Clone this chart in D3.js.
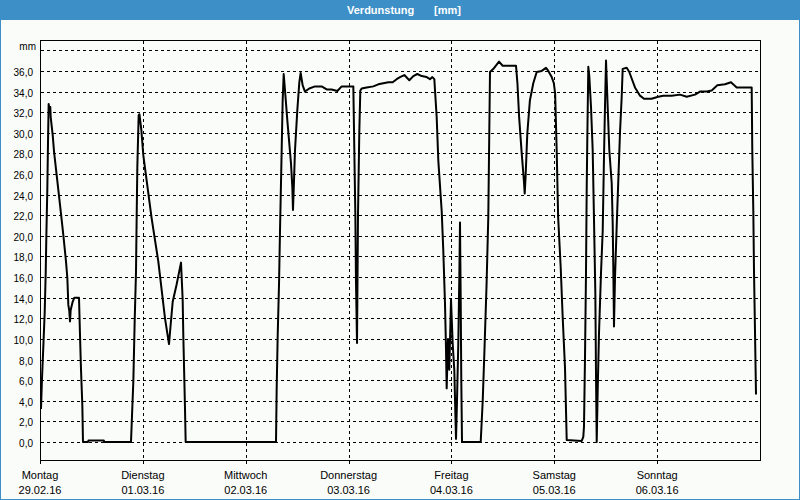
<!DOCTYPE html>
<html>
<head>
<meta charset="utf-8">
<script src="https://cdn.jsdelivr.net/npm/d3@7"></script>
<style>
  html, body { margin: 0; padding: 0; background: #fafcfa; }
  svg { display: block; }
  text { font-family: "Liberation Sans", Arial, sans-serif; }
</style>
</head>
<body>
<svg id="chart" width="800" height="500"></svg>
<script>
// ---- data ----
const title = "Verdunstung";
const unitLabel = "[mm]";
const yUnit = "mm";
const dayNames = ["Montag", "Dienstag", "Mittwoch", "Donnerstag", "Freitag", "Samstag", "Sonntag"];
const dayDates = ["29.02.16", "01.03.16", "02.03.16", "03.03.16", "04.03.16", "05.03.16", "06.03.16"];
const yTickValues = [0, 2, 4, 6, 8, 10, 12, 14, 16, 18, 20, 22, 24, 26, 28, 30, 32, 34, 36];
const yUnitValue = 38;

// hours since Monday 29.02.16 00:00
const hours = [
  0.23, 0.47, 0.78, 1.09, 1.33, 1.48, 1.71, 1.87, 2.02, 2.2, 2.4, 2.5, 2.96, 3.27, 3.89, 4.67, 5.44, 6.07, 6.38, 6.61, 6.84, 7.0, 7.16, 7.62, 8.01, 9.1, 9.33, 9.57, 9.88, 10.03,
  11.2, 11.3, 14.9, 15.0, 21.23,
  21.39, 21.78, 22.09, 22.4, 22.56, 22.71, 23.02, 23.2, 23.64, 24.11, 26.05, 27.61, 29.17, 30.1, 30.49, 30.96, 31.89, 32.9, 33.29, 33.44, 33.83, 33.99,
  55.07,
  55.22, 55.46, 55.77, 56.0, 56.39, 56.62, 56.86, 57.17, 57.71, 58.57, 58.88, 59.03, 59.19, 59.5, 60.04, 60.51, 60.82, 61.29, 61.83, 62.84, 64.17, 65.72, 66.89, 68.06, 69.38, 70.39, 73.11,
  73.34, 73.58, 73.73, 73.97, 74.2, 74.5, 74.74, 75.06, 76.22, 77.78, 78.94, 80.11, 81.28, 82.29, 83.22, 84.0, 85.01, 86.18, 87.11, 88.04, 89.06, 90.22, 91.0, 91.54, 92.01,
  92.17, 92.56, 92.94, 93.73, 94.1, 94.5, 94.73, 94.89, 95.2, 95.5, 95.9, 96.3, 96.67, 97.07, 97.3, 97.6, 97.84, 98.0, 98.16, 98.3, 98.47,
  102.83, 103.3, 103.7, 104.2, 104.6, 104.8, 105.0, 105.8, 107.1, 107.96, 109.7, 111.07, 111.4, 111.8, 112.4, 112.9, 113.1, 113.3, 113.7, 114.3, 115.1, 115.9, 117.07, 118.07, 118.6, 119.4, 119.9, 120.2,
  120.56, 120.9, 121.5, 121.96, 122.5, 122.9, 126.4,
  126.77, 126.93, 127.17, 127.4, 127.56, 127.7, 127.94, 128.17, 128.57, 128.96, 129.27, 129.58, 129.73, 129.9, 130.13, 130.43, 130.9, 131.3, 131.6, 131.83, 132.07,
  132.46, 132.84, 133.4, 133.63, 133.77, 133.93, 134.17, 134.56, 134.94, 135.33, 135.73, 135.96, 136.9, 137.5, 137.67, 138.83, 140.0, 140.93, 142.7, 144.27, 145.43, 147.4,
  149.33, 150.9, 152.83, 154.0, 155.57, 156.73, 158.04, 159.83, 161.23, 162.56, 164.1, 166.06, 166.2, 166.44, 166.6, 166.83, 167.07
];
const values = [
  3.2, 6.2, 9.3, 12.5, 16.4, 19.9, 24.6, 29.1, 32.8, 32.3, 32.5, 31.5, 29.8, 28.2, 25.9, 23.0, 20.1, 17.5, 15.9, 13.3, 12.7, 11.7, 12.8, 13.6, 14.0, 14.0, 10.4, 7.0, 3.5, 0,
  0, 0.15, 0.15, 0, 0,
  1.7, 5.9, 11.7, 16.5, 21.9, 26.7, 31.7, 31.8, 30.3, 27.8, 21.7, 17.5, 12.0, 9.5, 11.4, 13.6, 15.3, 17.4, 13.8, 10.3, 3.3, 0,
  0,
  5.1, 10.3, 15.3, 20.5, 28.3, 33.1, 35.7, 34.1, 31.2, 27.0, 24.7, 22.5, 24.4, 28.3, 32.2, 34.9, 35.8, 34.6, 34.0, 34.3, 34.5, 34.5, 34.2, 34.2, 34.05, 34.5, 34.5,
  28.3, 22.1, 15.6, 9.6, 22.0, 30.0, 34.1, 34.3, 34.4, 34.5, 34.7, 34.8, 34.9, 34.9, 35.2, 35.4, 35.6, 35.1, 35.5, 35.7, 35.5, 35.4, 35.2, 35.4, 35.2,
  34.1, 31.5, 27.3, 22.4, 18.6, 13.4, 9.1, 5.2, 10.0, 7.0, 13.8, 9.5, 7.0, 0.3, 4.0, 9.5, 16.0, 21.3, 14.0, 6.0, 0,
  0, 4.0, 8.8, 15.3, 21.8, 28.9, 35.9, 36.2, 36.9, 36.5, 36.5, 36.5, 34.8, 31.5, 28.0, 25.4, 24.1, 25.7, 29.9, 33.1, 34.8, 35.9, 36.0, 36.3, 36.0, 35.4, 34.8, 33.8,
  28.3, 21.8, 16.9, 12.1, 7.2, 0.2, 0.1,
  0.5, 1.5, 8.3, 16.4, 24.4, 29.3, 36.4, 35.5, 32.5, 28.3, 21.5, 14.4, 6.7, 0, 5.0, 10.5, 16.4, 20.5, 27.7, 32.5, 37.0,
  32.5, 28.3, 25.1, 21.2, 17.0, 11.2, 16.0, 20.9, 25.4, 30.0, 33.5, 36.2, 36.3, 35.9, 35.7, 34.4, 33.6, 33.3, 33.3, 33.5, 33.6, 33.6,
  33.7, 33.5, 33.7, 34.0, 34.0, 34.1, 34.6, 34.7, 34.9, 34.4, 34.4, 34.4, 28.3, 22.4, 16.6, 10.8, 4.6
];

// ---- layout ----
const W = 800, H = 500;
const plot = { left: 40, top: 40, right: 760, bottom: 460 };
const svg = d3.select("#chart");

const x = d3.scaleLinear().domain([0, 24 * dayNames.length]).range([plot.left, plot.right]);
const y = d3.scaleLinear().domain([-1.75, 39]).range([plot.bottom, plot.top]);
const crisp = v => Math.round(v) + 0.5;

// background
svg.append("rect").attr("x", 0).attr("y", 0).attr("width", W).attr("height", H).attr("fill", "#fafcfa");

// title bar
svg.append("rect").attr("x", 0).attr("y", 0).attr("width", W).attr("height", 20).attr("fill", "#3c8fc7");
svg.append("text").attr("x", 347).attr("y", 14).attr("fill", "#ffffff")
  .style("font-size", "11px").style("font-weight", "bold").text(title);
svg.append("text").attr("x", 434).attr("y", 14).attr("fill", "#ffffff")
  .style("font-size", "11px").style("font-weight", "bold").text(unitLabel);

// outer frame (blue edges)
svg.append("line").attr("x1", 0.5).attr("x2", 0.5).attr("y1", 0).attr("y2", H).attr("stroke", "#3c8fc7");
svg.append("line").attr("x1", W - 0.5).attr("x2", W - 0.5).attr("y1", 0).attr("y2", H).attr("stroke", "#3c8fc7");
svg.append("line").attr("x1", 0).attr("x2", W).attr("y1", H - 0.5).attr("y2", H - 0.5).attr("stroke", "#3c8fc7");

// horizontal dashed grid
const gridVals = yTickValues.concat([yUnitValue]);
svg.append("g").selectAll("line").data(gridVals).join("line")
  .attr("x1", plot.left + 1).attr("x2", plot.right)
  .attr("y1", d => crisp(y(d))).attr("y2", d => crisp(y(d)))
  .attr("stroke", "#000").attr("stroke-width", 1).attr("stroke-dasharray", "3,3");

// vertical dashed grid at day boundaries
const dayIdx = d3.range(dayNames.length);
svg.append("g").selectAll("line").data(dayIdx.slice(1)).join("line")
  .attr("x1", d => crisp(x(d * 24))).attr("x2", d => crisp(x(d * 24)))
  .attr("y1", plot.top + 1).attr("y2", plot.bottom)
  .attr("stroke", "#000").attr("stroke-width", 1).attr("stroke-dasharray", "3,3");

// y labels
svg.append("g").selectAll("text").data(yTickValues).join("text")
  .attr("x", 33).attr("y", d => Math.round(y(d)) + 5)
  .attr("text-anchor", "end").style("font-size", "10px").attr("fill", "#000")
  .text(d => d3.format(".1f")(d).replace(".", ","));
svg.append("text").attr("x", 36).attr("y", Math.round(y(yUnitValue)))
  .attr("text-anchor", "end").style("font-size", "10px").attr("fill", "#000").text(yUnit);

// x ticks and labels
svg.append("g").selectAll("line").data(dayIdx).join("line")
  .attr("x1", d => crisp(x(d * 24))).attr("x2", d => crisp(x(d * 24)))
  .attr("y1", plot.bottom).attr("y2", plot.bottom + 4)
  .attr("stroke", "#000");
svg.append("g").selectAll("text").data(dayIdx).join("text")
  .attr("x", d => x(d * 24)).attr("y", 479)
  .attr("text-anchor", "middle").style("font-size", "11px").attr("fill", "#000")
  .text(d => dayNames[d]);
svg.append("g").selectAll("text").data(dayIdx).join("text")
  .attr("x", d => x(d * 24)).attr("y", 494)
  .attr("text-anchor", "middle").style("font-size", "11px").attr("fill", "#000")
  .text(d => dayDates[d]);

// plot frame
svg.append("rect").attr("x", plot.left + 0.5).attr("y", plot.top + 0.5)
  .attr("width", plot.right - plot.left).attr("height", plot.bottom - plot.top)
  .attr("fill", "none").attr("stroke", "#000");

// data line
const pts = hours.map((h, i) => [h, values[i]]);
const line = d3.line().x(d => x(d[0])).y(d => y(d[1]));
svg.append("path").datum(pts).attr("d", line)
  .attr("fill", "none").attr("stroke", "#000").attr("stroke-width", 2).attr("stroke-linejoin", "round");
</script>
</body>
</html>
